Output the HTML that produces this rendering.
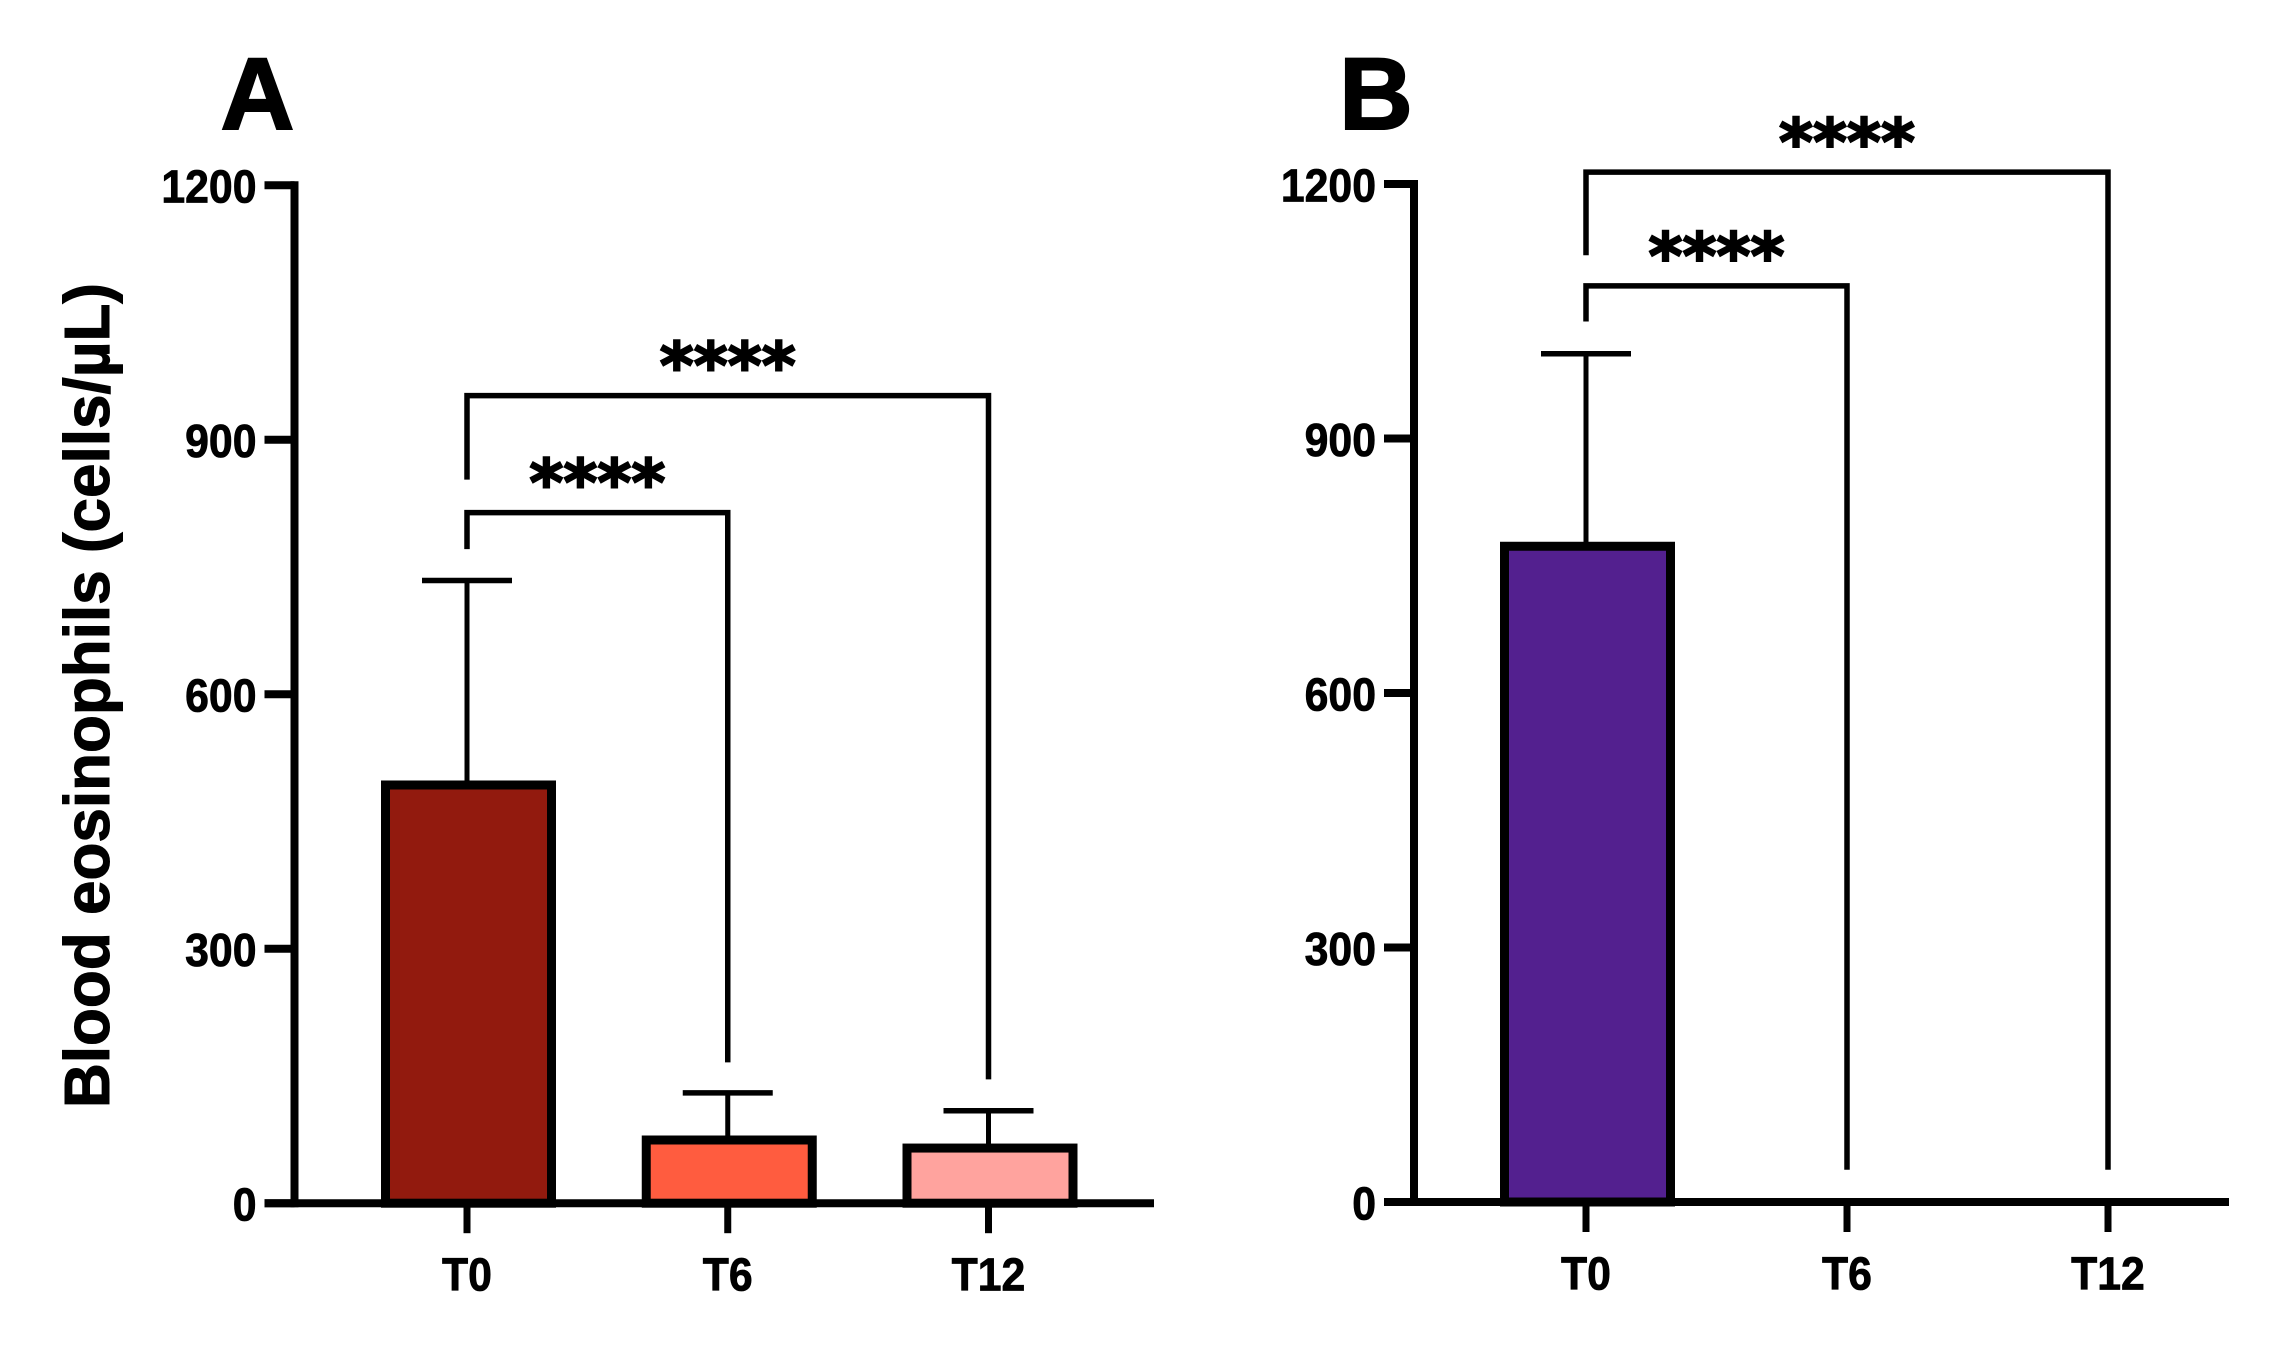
<!DOCTYPE html>
<html lang="en">
<head>
<meta charset="utf-8">
<title>Blood eosinophils</title>
<style>
html,body{margin:0;padding:0;background:#fff;width:2285px;height:1348px;overflow:hidden}
svg{display:block}
text{font-family:"Liberation Sans",Arial,sans-serif;font-weight:700;fill:#000;stroke:#000;stroke-width:0.8px}
</style>
</head>
<body>
<svg id="figure" xmlns="http://www.w3.org/2000/svg" width="2285" height="1348" viewBox="0 0 2285 1348">
<rect width="2285" height="1348" fill="#fff"/>
<text x="257.5" y="129" font-size="102" text-anchor="middle" style="stroke-width:2px">A</text>
<text x="1376" y="129" font-size="102" text-anchor="middle" style="stroke-width:2px">B</text>
<text transform="translate(109,1108) rotate(-90)" font-size="64" textLength="825" lengthAdjust="spacingAndGlyphs" style="stroke-width:1px">Blood eosinophils (cells/µL)</text>
</svg>
<script>
const categories = ['T0', 'T6', 'T12'];
const yTicks = [0, 300, 600, 900, 1200];

const meansA = [493, 74.5, 65];
const errorTopsA = [734, 130, 109];
const colorsA = ['#921a0e', '#ff5c3f', '#ffa39e'];

const meansB = [773, 0, 0];
const errorTopsB = [1000, 0, 0];
const colorsB = ['#53208f', '#53208f', '#53208f'];

// Significance brackets in data units: from-category, to-category, level, left end, right end
const bracketFrom = [0, 0];
const bracketTo = [1, 2];
const bracketLevelsA = [814, 952];
const bracketLeftEndsA = [771, 853];
const bracketRightEndsA = [166, 146];
const bracketLevelsB = [1080, 1214];
const bracketLeftEndsB = [1038, 1116];
const bracketRightEndsB = [38, 38];
const bracketLabel = '****';

const svg = document.getElementById('figure');
const NS = 'http://www.w3.org/2000/svg';

function make(tag, attrs, parent) {
  const node = document.createElementNS(NS, tag);
  for (const k in attrs) node.setAttribute(k, attrs[k]);
  parent.appendChild(node);
  return node;
}

function drawPanel(p) {
  const yScale = v => p.y0 - v * 0.8483;
  const xScale = i => p.x0 + i * p.step;

  const g = make('g', {}, svg);
  
  

  p.means.forEach((m, i) => {
    const top = yScale(m);
    const cx = xScale(i);
    if (p.errs[i] > m) {
      const stem = make('line', {x1: cx, x2: cx, y1: top, y2: yScale(p.errs[i]), stroke: '#000', 'stroke-width': 5}, g);
      
      
      const cap = make('line', {x1: cx - 45, x2: cx + 45, y1: yScale(p.errs[i]), y2: yScale(p.errs[i]), stroke: '#000', 'stroke-width': 5.5}, g);
      
      
    }
    const bar = make('rect', {x: cx - 81.5, y: top, width: 166, height: Math.max(0, p.y0 - top), fill: p.colors[i], stroke: '#000', 'stroke-width': 9}, g);
    
    
  });

  const yAxis = make('line', {x1: p.axisX, x2: p.axisX, y1: yScale(1200) - 4, y2: p.y0 + 4, stroke: '#000', 'stroke-width': 8}, g);
  
  
  const xAxis = make('line', {x1: p.axisX - 30, x2: p.xEnd, y1: p.y0, y2: p.y0, stroke: '#000', 'stroke-width': 8}, g);
  
  

  yTicks.forEach(t => {
    const y = yScale(t);
    const tick = make('line', {x1: p.axisX - 30, x2: p.axisX, y1: y, y2: y, stroke: '#000', 'stroke-width': 8}, g);
    
    
    const lab = make('text', {transform: 'translate(' + (p.axisX - 38) + ',' + (y + 17.5) + ') scale(0.93,1)', 'font-size': 46, 'text-anchor': 'end'}, g);
    lab.textContent = t;
    
    
  });

  categories.forEach((c, i) => {
    const x = xScale(i);
    const tick = make('line', {x1: x, x2: x, y1: p.y0, y2: p.y0 + 30, stroke: '#000', 'stroke-width': 7}, g);
    
    
    const lab = make('text', {transform: 'translate(' + x + ',' + (p.y0 + 87.5) + ') scale(0.93,1)', 'font-size': 46, 'text-anchor': 'middle'}, g);
    lab.textContent = c;
    
    
  });

  bracketFrom.forEach((from, b) => {
    const xa = xScale(from);
    const xb = xScale(bracketTo[b]);
    const level = yScale(p.levels[b]);
    const d = 'M' + xa + ' ' + yScale(p.leftEnds[b]) + 'V' + level + 'H' + xb + 'V' + yScale(p.rightEnds[b]);
    const path = make('path', {d: d, fill: 'none', stroke: '#000', 'stroke-width': 5.5}, g);
    
    
    const stars = make('text', {x: (xa + xb) / 2, y: level - 7, 'font-size': 65, 'text-anchor': 'middle', style: 'font-family:"DejaVu Sans",sans-serif;stroke-width:2px'}, g);
    stars.textContent = bracketLabel;
    
    
  });
}

drawPanel({id: 'a', x0: 467, step: 260.75, y0: 1203.2, axisX: 294.5, xEnd: 1154,
  means: meansA, errs: errorTopsA, colors: colorsA,
  levels: bracketLevelsA, leftEnds: bracketLeftEndsA, rightEnds: bracketRightEndsA});
drawPanel({id: 'b', x0: 1586, step: 261, y0: 1202, axisX: 1414, xEnd: 2229,
  means: meansB, errs: errorTopsB, colors: colorsB,
  levels: bracketLevelsB, leftEnds: bracketLeftEndsB, rightEnds: bracketRightEndsB});
</script>
</body>
</html>
